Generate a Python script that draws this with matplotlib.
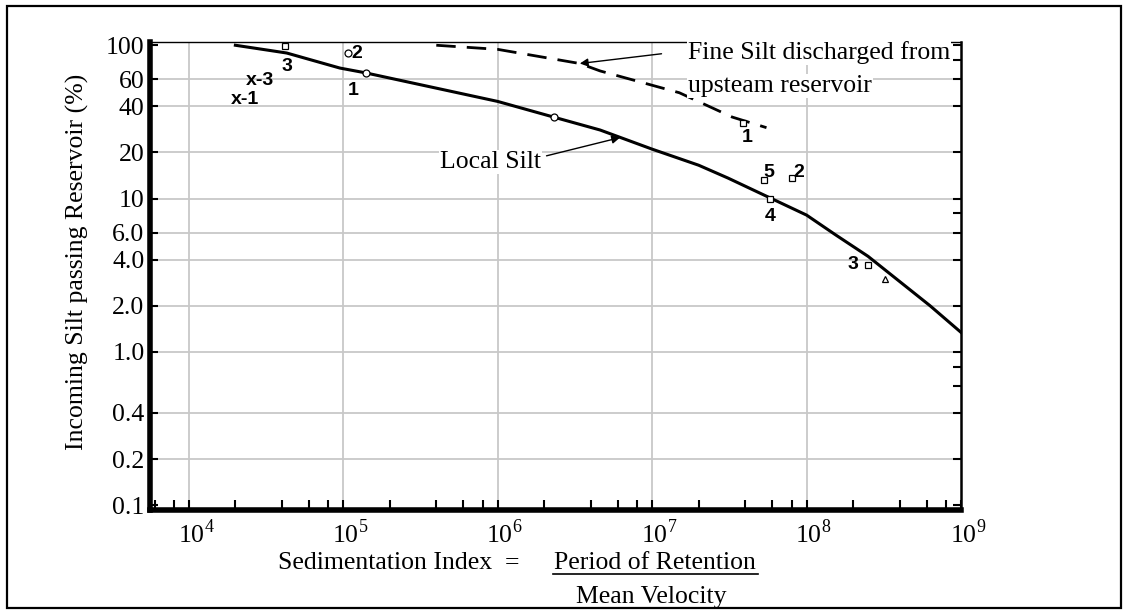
import matplotlib
matplotlib.use("Agg")
import matplotlib.pyplot as plt
from matplotlib.lines import Line2D
from matplotlib.patches import Rectangle
from matplotlib.ticker import FixedLocator, FixedFormatter, NullFormatter
import matplotlib.transforms as mtransforms

plt.rcParams['font.family'] = ['Liberation Serif', 'DejaVu Serif']
plt.rcParams['mathtext.fontset'] = 'custom'
plt.rcParams['mathtext.rm'] = 'Liberation Serif'

# curves (sedimentation index, % passing)
local_x = [2.0e4, 4.3e4, 9.5e4, 1.4e5, 1.0e6, 2.3e6, 4.6e6, 1.0e7, 2.0e7, 3.1e7,
           5.8e7, 1.0e8, 1.54e8, 2.5e8, 6.3e8, 1.0e9]
local_y = [100, 89, 71, 66, 43, 34, 28, 21, 16.5, 13.6, 10.1, 7.8, 5.8, 4.2, 2.0, 1.34]

fine_x = [4.0e5, 1.0e6, 3.4e6, 4.6e6, 1.5e7, 3.3e7, 5.5e7]
fine_y = [100, 94, 76, 68, 49, 34, 29]

# observed points
sq_x = [4.2e4, 3.9e7, 5.3e7, 8.1e7, 5.8e7, 2.5e8]
sq_y = [99, 31, 13.2, 13.6, 10, 3.7]
circ_x = [1.07e5, 1.4e5, 2.3e6]
circ_y = [89, 66, 34]
tri_x = [3.2e8]
tri_y = [3.0]

pt_labels = ['x-3', 'x-1', '3', '2', '1', '1', '5', '2', '4', '3']
pt_lab_x = [2.9e4, 2.3e4, 4.3e4, 1.22e5, 1.16e5, 4.1e7, 5.7e7, 8.9e7, 5.8e7, 2.0e8]
pt_lab_y = [59, 44, 73, 88, 51, 25, 14.7, 14.7, 7.6, 3.7]

ytick_vals = [100, 60, 40, 20, 10, 6, 4, 2, 1, 0.4, 0.2, 0.1]
ytick_labels = ['100', '60', '40', '20', '10', '6.0', '4.0', '2.0', '1.0', '0.4', '0.2', '0.1']
yright_extra = [80, 8, 0.8, 0.6]
ygrid_vals = [60, 40, 20, 10, 6, 4, 2, 1, 0.4, 0.2]
xtick_vals = [1e4, 1e5, 1e6, 1e7, 1e8, 1e9]
xtick_labels = [r'$10^{4}$', r'$10^{5}$', r'$10^{6}$', r'$10^{7}$', r'$10^{8}$', r'$10^{9}$']
xminor_vals = [k * 10.0 ** d for d in range(3, 9) for k in (2, 4, 6, 8)]

W, H = 1124, 612
fig = plt.figure(figsize=(W / 100, H / 100), dpi=100)
ax = fig.add_axes([150 / W, 1 - 510 / H, 811 / W, 468 / H])

ax.set_xscale('log')
ax.set_yscale('log')
ax.set_xlim(5.6e3, 1e9)
ax.set_ylim(0.093, 105)

for v in xtick_vals[:-1]:
    ax.axvline(v, color='#c8c8c8', lw=1.3, zorder=0)
for v in ygrid_vals:
    ax.axhline(v, color='#c8c8c8', lw=1.3, zorder=0)

ax.plot(local_x, local_y, color='black', lw=2.2, zorder=3)
ax.plot(fine_x, fine_y, color='black', lw=2.0, dashes=(7, 4), zorder=3)

mk = dict(color='black', mfc='white', mew=0.9, ms=5, ls='none', zorder=4)
ax.plot(sq_x, sq_y, marker='s', **mk)
ax.plot(circ_x, circ_y, marker='o', **mk)
ax.plot(tri_x, tri_y, marker='^', **mk)

for t, x, y in zip(pt_labels, pt_lab_x, pt_lab_y):
    ax.text(x, y, t, family='Liberation Sans', fontweight='bold', fontsize=14,
            ha='center', va='center', zorder=5)

# leader lines
ax.annotate('', xy=(3.4e6, 76), xytext=(1.15e7, 88),
            arrowprops=dict(arrowstyle='-|>', color='black', lw=1.0,
                            mutation_scale=12, shrinkA=0, shrinkB=0), zorder=5)
ax.annotate('', xy=(6.2e6, 25), xytext=(2.07e6, 19),
            arrowprops=dict(arrowstyle='-|>', color='black', lw=1.0,
                            mutation_scale=12, shrinkA=0, shrinkB=0), zorder=5)

box = dict(facecolor='white', edgecolor='none', pad=0.5)
ax.text((688 - 150) / 811, (510 - 53) / 468, 'Fine Silt discharged from',
        transform=ax.transAxes, fontsize=18.5, ha='left', va='center', bbox=box, zorder=6)
ax.text((688 - 150) / 811, (510 - 86) / 468, 'upsteam reservoir',
        transform=ax.transAxes, fontsize=18.5, ha='left', va='center', bbox=box, zorder=6)
ax.text((440 - 150) / 811, (510 - 162) / 468, 'Local Silt',
        transform=ax.transAxes, fontsize=18.5, ha='left', va='center', bbox=box, zorder=6)

# ticks
ax.xaxis.set_major_locator(FixedLocator(xtick_vals))
ax.xaxis.set_major_formatter(FixedFormatter(xtick_labels))
ax.xaxis.set_minor_locator(FixedLocator(xminor_vals))
ax.xaxis.set_minor_formatter(NullFormatter())
ax.yaxis.set_major_locator(FixedLocator(ytick_vals))
ax.yaxis.set_major_formatter(FixedFormatter(ytick_labels))
ax.yaxis.set_minor_locator(FixedLocator(yright_extra))
ax.yaxis.set_minor_formatter(NullFormatter())

ax.tick_params(axis='x', which='both', direction='in', length=7, width=1.5,
               top=False, labelsize=18.5, pad=7)
ax.tick_params(axis='y', which='major', direction='in', length=6, width=1.5,
               left=True, right=True, labelsize=18.5, pad=4)
ax.tick_params(axis='y', which='minor', direction='in', length=6, width=1.5,
               left=False, right=True)
shift = mtransforms.ScaledTranslation(7 / 100, 0, fig.dpi_scale_trans)
for lbl in ax.get_xticklabels():
    lbl.set_transform(lbl.get_transform() + shift)

ax.spines['left'].set_linewidth(4)
ax.spines['bottom'].set_linewidth(4)
ax.spines['right'].set_linewidth(1.8)
ax.spines['top'].set_linewidth(1.0)

# axis titles
fig.text(77 / W, 1 - 262 / H, 'Incoming Silt passing Reservoir (%)', rotation=90,
         fontsize=18.5, ha='center', va='center')
fig.text(278 / W, 1 - 563 / H, 'Sedimentation Index', fontsize=18.5, ha='left', va='center')
fig.text(512 / W, 1 - 563 / H, '=', fontsize=18.5, ha='center', va='center')
fig.text(655 / W, 1 - 563 / H, 'Period of Retention', fontsize=18.5, ha='center', va='center')
fig.add_artist(Line2D([553 / W, 758 / W], [1 - 574 / H, 1 - 574 / H], color='black', lw=1.2))
fig.text(651 / W, 1 - 597 / H, 'Mean Velocity', fontsize=18.5, ha='center', va='center')

# outer frame
fig.add_artist(Rectangle((7 / W, 4 / H), 1114 / W, 602 / H, transform=fig.transFigure,
                         fill=False, edgecolor='black', lw=1.6))

fig.savefig('out.png', dpi=100)
